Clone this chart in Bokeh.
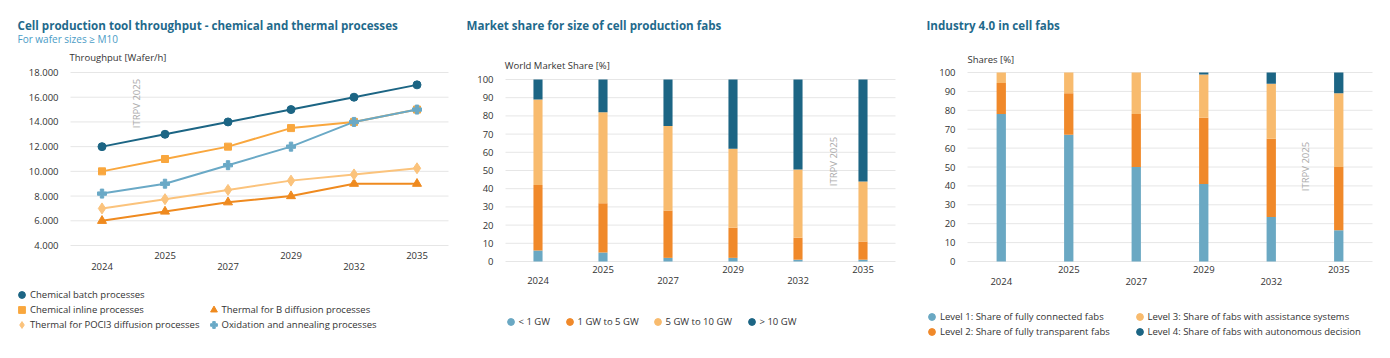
from bokeh.plotting import figure
from bokeh.models import Range1d, Label, Legend, LegendItem, ColumnDataSource
from bokeh.core.properties import value
from bokeh.layouts import row
from bokeh.embed import file_html
from bokeh.resources import INLINE

FONT = "Open Sans"
TXT = "#333333"
GRID = "#e6e6e6"
TITLE_C = "#1f6a8c"
SUB_C = "#4a9cc6"
WM_C = "#aaaaaa"

# ---------------- data ----------------
years = ["2024", "2025", "2027", "2029", "2032", "2035"]

# Panel 1: throughput [wafer/h]
chem_batch = [12000, 13000, 14000, 15000, 16000, 17000]
chem_inline = [10000, 11000, 12000, 13500, 14000, 15000]
thermal_b = [6000, 6750, 7500, 8000, 9000, 9000]
thermal_pocl3 = [7000, 7750, 8500, 9250, 9750, 10250]
oxidation = [8200, 9000, 10500, 12000, 14000, 15000]
throughput_ticks = [4000, 6000, 8000, 10000, 12000, 14000, 16000, 18000]
throughput_labels = ["4.000", "6.000", "8.000", "10.000", "12.000", "14.000", "16.000", "18.000"]

# Panel 2: world market share [%] by fab size
fab_lt1 = [6, 5, 2, 2, 1, 1]
fab_1to5 = [36, 27, 26, 16.5, 12, 10]
fab_5to10 = [47, 50, 46.5, 43.5, 37.5, 33]
fab_gt10 = [11, 18, 25.5, 38, 49.5, 56]

# Panel 3: industry 4.0 shares [%]
level1 = [78, 67, 50, 41, 23.5, 16.5]
level2 = [16.5, 22, 28, 35, 41.5, 33.5]
level3 = [5.5, 11, 22, 23, 29, 39]
level4 = [0, 0, 0, 1, 6, 11]

pct_ticks = [0, 10, 20, 30, 40, 50, 60, 70, 80, 90, 100]
pct_labels = [str(t) for t in pct_ticks]

DARK = "#1c6584"
LBLUE = "#6aa8c3"
ORANGE = "#f0892a"
LORANGE = "#f8bb6e"

# ---------------- layout (page pixels) ----------------
H = 358
FS = "9.5px"
TFS = "11.6px"
G = 17
N = len(years)
xi = list(range(N))
NAN = float("nan")


def make_panel(x0, W, PL, PR, lo_val, lo_px, hi_val, hi_px, ticks, tick_labels, off_up, off_low):
    step = (PR - PL) / N
    xs = -(PL - x0) / step - 0.5
    xe = (x0 + W - PL) / step - 0.5
    upp = (hi_val - lo_val) / (lo_px - hi_px)
    ys = lo_val - (H - lo_px) * upp
    ye = hi_val + hi_px * upp
    p = figure(width=W, height=H, x_range=Range1d(xs, xe), y_range=Range1d(ys, ye),
               output_backend="svg", toolbar_location=None,
               x_axis_location=None, y_axis_location=None,
               min_border=0, min_border_left=0, min_border_right=0,
               min_border_top=0, min_border_bottom=0)
    p.outline_line_color = None
    p.xgrid.visible = False
    p.ygrid.visible = False
    # horizontal grid lines across the category band
    p.segment(x0=[xi[0] - 0.5] * len(ticks), x1=[xi[-1] + 0.5] * len(ticks), y0=ticks, y1=ticks,
              line_color=GRID, line_width=1)
    # y tick labels
    p.text(x=[xi[0] - 0.5] * len(ticks), y=ticks, text=tick_labels, x_offset=-12,
           text_align="right", text_baseline="middle", text_font=value(FONT),
           text_font_size=value(FS), text_color=TXT)
    # staggered x tick labels
    p.text(x=xi, y=[lo_val] * N, text=years,
           y_offset=[off_low if i % 2 == 0 else off_up for i in xi],
           text_align="center", text_baseline="middle", text_font=value(FONT),
           text_font_size=value(FS), text_color=TXT)
    return p


def text(p, x0, s, X, Y, size, color, bold=False, angle=0.0, align="left"):
    p.add_layout(Label(x=X - x0, y=H - Y, x_units="screen", y_units="screen", text=s,
                       text_font=FONT, text_font_size=size, text_color=color,
                       text_font_style="bold" if bold else "normal",
                       text_baseline="middle", text_align=align, angle=angle))


def legend_entry(p, x0, label, rend, X, Y):
    lg = Legend(items=[LegendItem(label=label, renderers=[rend])],
                location=(X - G / 2 - x0, H - Y - G / 2),
                glyph_width=G, glyph_height=G, label_height=G, label_width=10,
                label_standoff=-3, padding=0, margin=0, spacing=0,
                border_line_color=None, background_fill_alpha=0,
                label_text_font=FONT, label_text_font_size=FS, label_text_color=TXT)
    p.add_layout(lg, "center")


def legend_marker(p, col):
    # renderer used only for the legend symbol (no visible data point)
    return p.scatter(x=[NAN], y=[NAN], marker="circle", fill_color=col, line_color=col)


# ---------------- panel 1 ----------------
X1 = 0
p1 = make_panel(X1, 460, 70, 448, 4000, 245, 18000, 72, throughput_ticks, throughput_labels, 10, 21)
src1 = ColumnDataSource(dict(x=xi, batch=chem_batch, inline=chem_inline, b=thermal_b,
                             pocl3=thermal_pocl3, ox=oxidation))
series1 = [
    ("batch", "Chemical batch processes", DARK, "circle", 8),
    ("inline", "Chemical inline processes", "#f9a73e", "square", 7),
    ("b", "Thermal for B diffusion processes", "#ef8a1f", "triangle", 9),
    ("pocl3", "Thermal for POCl3 diffusion processes", "#fbc37c", "diamond", 11),
    ("ox", "Oxidation and annealing processes", "#6aa9c6", "plus", 9),
]
r1, n1 = {}, {}
for key, name, col, mk, sz in series1:
    p1.line(x="x", y=key, source=src1, line_color=col, line_width=2)
    r1[key] = p1.scatter(x="x", y=key, source=src1, marker=mk, size=sz,
                         fill_color=col, line_color=col)
    n1[key] = name

text(p1, X1, "Cell production tool throughput - chemical and thermal processes", 17, 25, TFS, TITLE_C, bold=True)
text(p1, X1, "For wafer sizes \u2265 M10", 17, 38.5, "10px", SUB_C)
text(p1, X1, "Throughput [Wafer/h]", 69, 57, FS, TXT)
text(p1, X1, "ITRPV 2025", 136, 103, FS, WM_C, angle=1.5708, align="center")
legend_entry(p1, X1, n1["batch"], r1["batch"], 21.5, 294)
legend_entry(p1, X1, n1["inline"], r1["inline"], 21.5, 309)
legend_entry(p1, X1, n1["pocl3"], r1["pocl3"], 21.5, 324)
legend_entry(p1, X1, n1["b"], r1["b"], 213, 309)
legend_entry(p1, X1, n1["ox"], r1["ox"], 213, 324)

# ---------------- panel 2 ----------------
X2 = 460
p2 = make_panel(X2, 445, 505, 895, 0, 261, 100, 79, pct_ticks, pct_labels, 8, 18.5)
src2 = ColumnDataSource(dict(x=xi, lt1=fab_lt1, g1to5=fab_1to5, g5to10=fab_5to10, gt10=fab_gt10))
p2.vbar_stack(["lt1", "g1to5", "g5to10", "gt10"], x="x", width=0.14,
              color=[LBLUE, ORANGE, LORANGE, DARK], line_color=None, source=src2)
text(p2, X2, "Market share for size of cell production fabs", 466, 25, TFS, TITLE_C, bold=True)
text(p2, X2, "World Market Share [%]", 504.3, 65, FS, TXT)
text(p2, X2, "ITRPV 2025", 833, 161, FS, WM_C, angle=1.5708, align="center")
for name, col, X in [("< 1 GW", LBLUE, 510), ("1 GW to 5 GW", ORANGE, 569),
                     ("5 GW to 10 GW", LORANGE, 657), ("> 10 GW", DARK, 751)]:
    legend_entry(p2, X2, name, legend_marker(p2, col), X, 321.5)

# ---------------- panel 3 ----------------
X3 = 905
p3 = make_panel(X3, 485, 967, 1372, 0, 261, 100, 72, pct_ticks, pct_labels, 8.3, 20)
src3 = ColumnDataSource(dict(x=xi, l1=level1, l2=level2, l3=level3, l4=level4))
p3.vbar_stack(["l1", "l2", "l3", "l4"], x="x", width=0.138,
              color=[LBLUE, ORANGE, LORANGE, DARK], line_color=None, source=src3)
text(p3, X3, "Industry 4.0 in cell fabs", 926, 25, TFS, TITLE_C, bold=True)
text(p3, X3, "Shares [%]", 967, 58.5, FS, TXT)
text(p3, X3, "ITRPV 2025", 1305, 166, FS, WM_C, angle=1.5708, align="center")
lv_names = ["Level 1: Share of fully connected fabs", "Level 2: Share of fully transparent fabs",
            "Level 3: Share of fabs with assistance systems", "Level 4: Share of fabs with autonomous decision"]
lv_pos = [(931.5, 316), (931.5, 331.5), (1139, 316), (1139, 331.5)]
for name, col, (X, Y) in zip(lv_names, [LBLUE, ORANGE, LORANGE, DARK], lv_pos):
    legend_entry(p3, X3, name, legend_marker(p3, col), X, Y)

layout = row(p1, p2, p3)
open("out.html", "w").write(file_html(layout, INLINE))
